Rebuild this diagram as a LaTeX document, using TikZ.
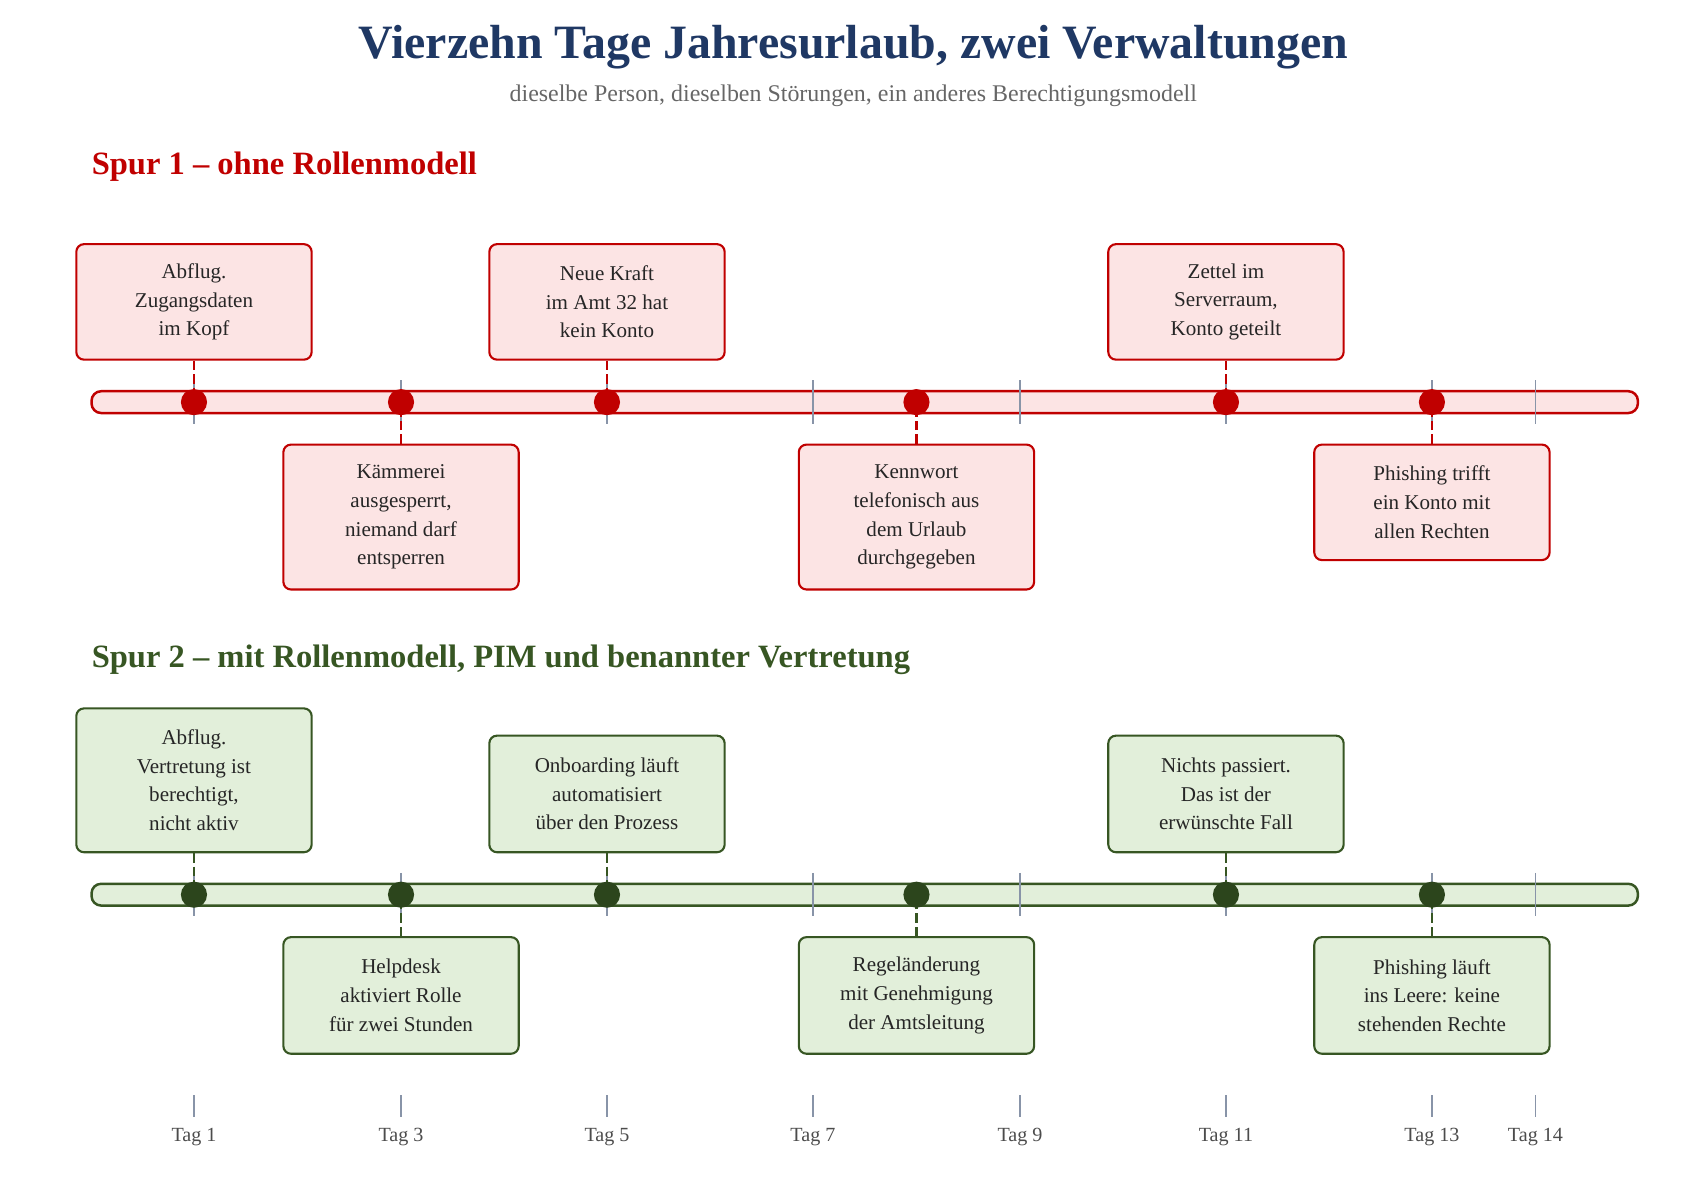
\documentclass[tikz,border=0pt]{standalone}
\usepackage{fontspec}
\setmainfont{Liberation Serif}
\definecolor{rot}{HTML}{C00000}
\definecolor{rosa}{HTML}{FCE4E4}
\definecolor{gruen}{HTML}{375623}
\definecolor{hgruen}{HTML}{E2EFDA}
\definecolor{navy}{HTML}{1F3864}
\definecolor{strich}{HTML}{8894A8}
\tikzset{
  box/.style={draw, line width=1.1pt, rounded corners=4pt, minimum width=4.32cm, align=center,
    font=\fontsize{11}{15}\selectfont, text=black!85},
  rbox/.style={box, draw=rot, fill=rosa},
  gbox/.style={box, draw=gruen, fill=hgruen},
  tick/.style={strich, line width=0.8pt},
  stem/.style={line width=1.1pt, dash pattern=on 5pt off 2pt}
}
\begin{document}
\begin{tikzpicture}[x=0.02cm, y=-0.02cm]
  \useasboundingbox (0,0) rectangle (1560,1083);
  % titel
  \node[font=\fontsize{25}{28}\selectfont\bfseries, text=navy] (T) at (783,43) {Vierzehn Tage Jahresurlaub, zwei Verwaltungen};
  \node[font=\fontsize{12.5}{14}\selectfont, text=black!60] (U) at (783,88) {dieselbe Person, dieselben Störungen, ein anderes Berechtigungsmodell};
  \node[anchor=west, font=\fontsize{17}{20}\selectfont\bfseries, text=rot] (S1) at (78,153) {Spur 1 – ohne Rollenmodell};
  \node[anchor=west, font=\fontsize{17}{20}\selectfont\bfseries, text=gruen] (S2) at (78,605) {Spur 2 – mit Rollenmodell, PIM und benannter Vertretung};

  % spur 1
  \draw[rot, line width=1.3pt, fill=rosa, rounded corners=5pt] (84,359) rectangle (1503,379);
  \foreach \x in {178,368,557,746,936,1125,1314,1409} \draw[tick] (\x,349) -- (\x,389);
  \node[rbox, minimum height=2.12cm, anchor=south] (A1) at (178,331) {Abflug.\\Zugangsdaten\\im Kopf};
  \node[rbox, minimum height=2.66cm, anchor=north] (A2) at (368,407) {Kämmerei\\ausgesperrt,\\niemand darf\\entsperren};
  \node[rbox, minimum height=2.12cm, anchor=south] (A3) at (557,331) {Neue Kraft\\im Amt 32 hat\\kein Konto};
  \node[rbox, minimum height=2.66cm, anchor=north] (A4) at (841,407) {Kennwort\\telefonisch aus\\dem Urlaub\\durchgegeben};
  \node[rbox, minimum height=2.12cm, anchor=south] (A5) at (1125,331) {Zettel im\\Serverraum,\\Konto geteilt};
  \node[rbox, minimum height=2.12cm, anchor=north] (A6) at (1314,407) {Phishing trifft\\ein Konto mit\\allen Rechten};
  \foreach \n/\x in {A1/178,A2/368,A3/557,A4/841,A5/1125,A6/1314} {
    \coordinate (p\n) at (\x,369);
    \draw[rot, stem] (\n) -- (p\n);
    \fill[rot] (p\n) circle (12);
  }

  % spur 2
  \draw[gruen, line width=1.3pt, fill=hgruen, rounded corners=5pt] (84,811) rectangle (1503,831);
  \foreach \x in {178,368,557,746,936,1125,1314,1409} \draw[tick] (\x,801) -- (\x,841);
  \node[gbox, minimum height=2.64cm, anchor=south] (B1) at (178,783) {Abflug.\\Vertretung ist\\berechtigt,\\nicht aktiv};
  \node[gbox, minimum height=2.14cm, anchor=north] (B2) at (368,859) {Helpdesk\\aktiviert Rolle\\für zwei Stunden};
  \node[gbox, minimum height=2.14cm, anchor=south] (B3) at (557,783) {Onboarding läuft\\automatisiert\\über den Prozess};
  \node[gbox, minimum height=2.14cm, anchor=north] (B4) at (841,859) {Regeländerung\\mit Genehmigung\\der Amtsleitung};
  \node[gbox, minimum height=2.14cm, anchor=south] (B5) at (1125,783) {Nichts passiert.\\Das ist der\\erwünschte Fall};
  \node[gbox, minimum height=2.14cm, anchor=north] (B6) at (1314,859) {Phishing läuft\\ins Leere: keine\\stehenden Rechte};
  \foreach \n/\x in {B1/178,B2/368,B3/557,B4/841,B5/1125,B6/1314} {
    \coordinate (p\n) at (\x,821);
    \draw[gruen, stem] (\n) -- (p\n);
    \fill[gruen!80!black] (p\n) circle (12);
  }

  % achse
  \foreach \x/\t in {178/1,368/3,557/5,746/7,936/9,1125/11,1314/13,1409/14} {
    \draw[tick] (\x,1005) -- (\x,1025);
    \node[font=\fontsize{10.5}{12}\selectfont, text=black!70] (tag\t) at (\x,1043) {Tag \t};
  }
\end{tikzpicture}
\end{document}
